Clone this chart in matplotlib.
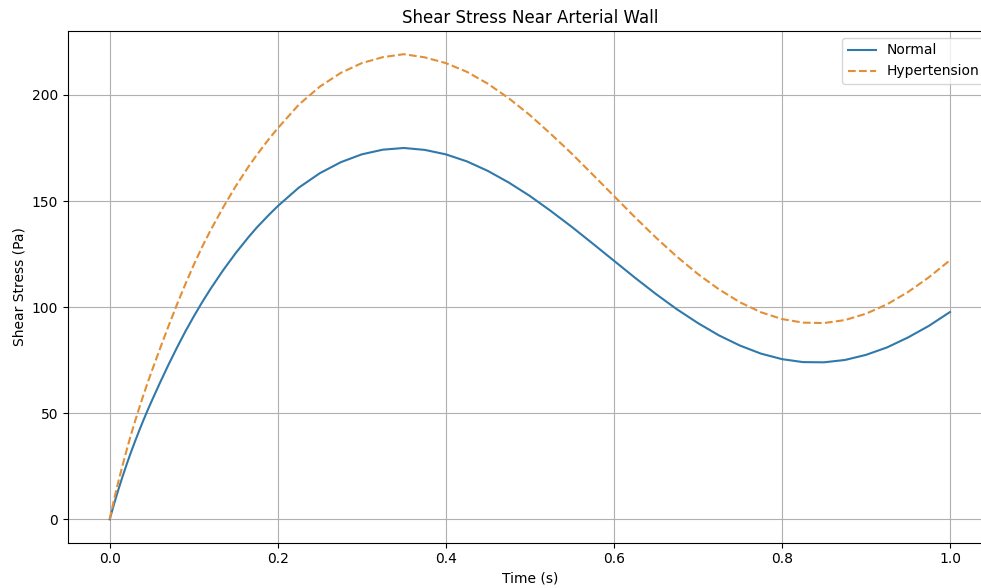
import numpy as np
import matplotlib.pyplot as plt

# time samples (s), denser near the start where the curves rise fast
time_s = [0.0, 0.005, 0.01, 0.015, 0.02, 0.025, 0.03, 0.035, 0.04, 0.045,
          0.05, 0.06, 0.07, 0.08, 0.09, 0.10, 0.11, 0.12, 0.135, 0.15,
          0.165, 0.175, 0.19, 0.2, 0.225, 0.25, 0.275, 0.3, 0.325, 0.35,
          0.375, 0.4, 0.425, 0.45, 0.475, 0.5, 0.525, 0.55, 0.575, 0.6,
          0.625, 0.65, 0.675, 0.7, 0.725, 0.75, 0.775, 0.8, 0.825, 0.85,
          0.875, 0.9, 0.925, 0.95, 0.975, 1.0]

# shear stress (Pa)
normal = [0.0, 7.0, 13.6, 19.8, 25.7, 31.3, 36.6, 41.7, 46.6, 51.3,
          55.8, 64.5, 72.9, 80.9, 88.5, 95.6, 102.3, 108.6, 117.4, 125.5,
          132.9, 137.5, 143.7, 147.6, 156.3, 163.1, 168.3, 172.0, 174.2, 175.0,
          174.1, 172.0, 168.7, 164.2, 158.7, 152.4, 145.3, 137.8, 129.9, 121.9,
          113.9, 106.2, 99.0, 92.5, 86.7, 81.9, 78.1, 75.5, 74.1, 74.0,
          75.1, 77.5, 81.0, 85.7, 91.2, 97.7]
hypertension = [0.0, 9.0, 17.3, 25.0, 32.4, 39.4, 46.0, 52.3, 58.4, 64.2,
                69.8, 80.6, 91.1, 101.2, 110.8, 119.9, 128.4, 136.2, 147.0, 157.0,
                166.1, 171.7, 179.5, 184.3, 195.4, 203.9, 210.4, 215.0, 217.8, 219.2,
                217.7, 215.0, 210.9, 205.3, 198.4, 190.5, 181.6, 172.3, 162.4, 152.4,
                142.4, 132.8, 123.8, 115.6, 108.4, 102.3, 97.6, 94.4, 92.7, 92.5,
                93.9, 96.9, 101.3, 107.1, 114.1, 122.1]

fig = plt.figure(figsize=(9.81, 5.88), dpi=100)
# the original axes run a bit past the right edge of the picture
ax = fig.add_axes([0.069, 0.0772, 0.9422, 0.8702])

ax.plot(time_s, normal, color='#3079aa', linewidth=1.5, label='Normal')
ax.plot(time_s, hypertension, color='#e38f35', linewidth=1.5,
        linestyle='--', label='Hypertension')

ax.set_title('Shear Stress Near Arterial Wall')
ax.set_xlabel('Time (s)')
ax.set_ylabel('Shear Stress (Pa)')
ax.grid(True)
ax.legend(loc='upper right')

fig.savefig('out.png', dpi=100)
